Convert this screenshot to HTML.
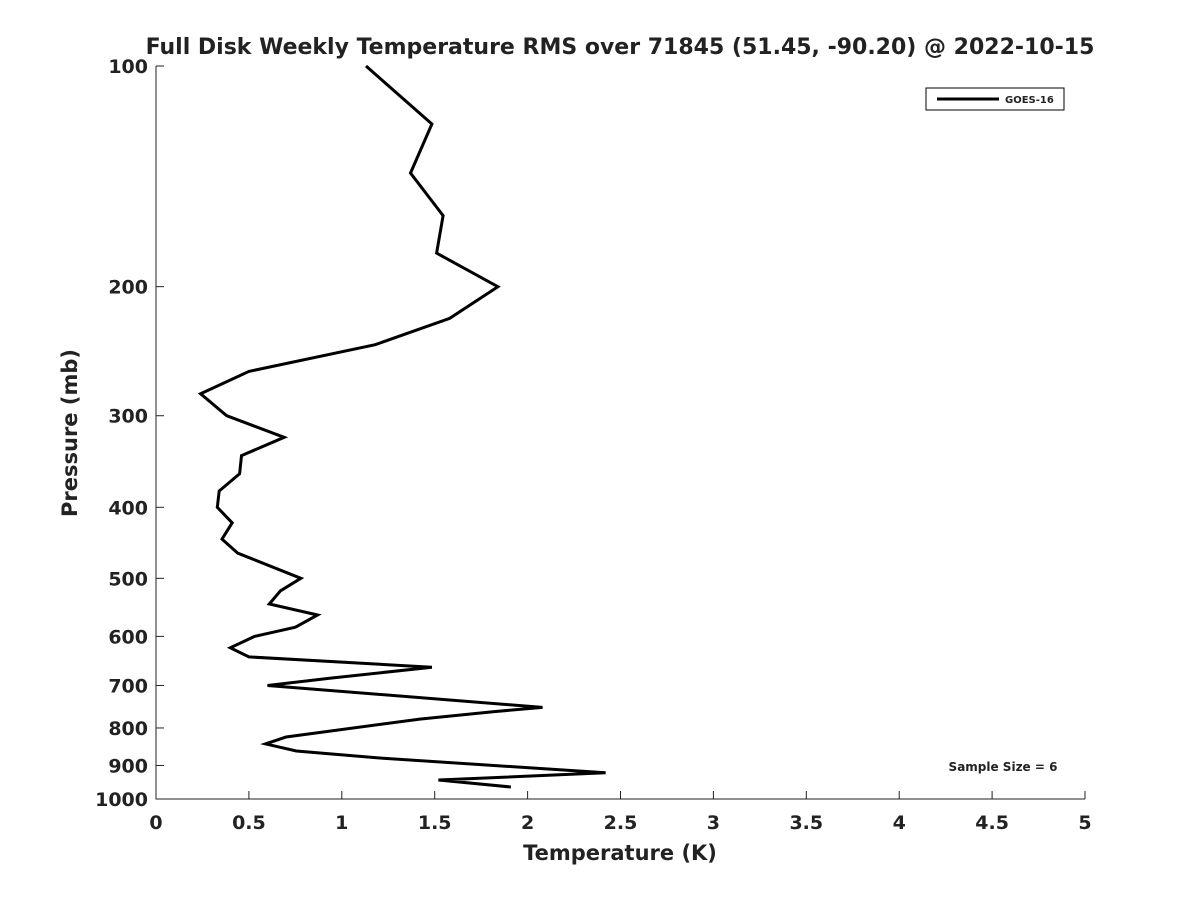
<!DOCTYPE html>
<html><head><meta charset="utf-8"><style>
body{margin:0;background:#fff}
svg text{font-family:"DejaVu Sans","Liberation Sans",sans-serif;font-weight:bold;fill:#222}
</style></head><body>
<svg width="1200" height="900">
<text x="620" y="54" font-size="22" text-anchor="middle" fill="#000">Full Disk Weekly Temperature RMS over 71845 (51.45, -90.20) @ 2022-10-15</text>
<g id="axes"></g>
<path id="line" fill="none" stroke="#000" stroke-width="3" stroke-linejoin="miter"/>
<rect x="926" y="88" width="138" height="22" fill="#fff" stroke="#000" stroke-width="1"/>
<line x1="937" y1="99" x2="999" y2="99" stroke="#000" stroke-width="3"/>
<text x="1005" y="103" font-size="10" fill="#000">GOES-16</text>
<text x="1003" y="771" font-size="12" text-anchor="middle" fill="#000">Sample Size = 6</text>
<text x="620" y="860" font-size="21" text-anchor="middle">Temperature (K)</text>
<text transform="translate(77,433) rotate(-90)" font-size="21" text-anchor="middle">Pressure (mb)</text>
</svg>
<script>
const temps=[1.13,1.485,1.37,1.545,1.51,1.84,1.58,1.18,0.50,0.24,0.38,0.69,0.46,0.45,0.34,0.33,0.41,0.355,0.44,0.78,0.67,0.61,0.87,0.75,0.53,0.40,0.50,1.485,0.94,0.60,2.08,1.82,1.42,0.70,0.59,0.755,1.195,2.42,1.52,1.91];
const pressures=[100,120,140,160,180,200,221,240,261,280,300,321,340,360,380,400,420,442,462,500,520,542,561,583,600,622,640,661,684,700,750,760,778,823,841,860,879,921,942,963];
const xTicks=[0,0.5,1,1.5,2,2.5,3,3.5,4,4.5,5];
const xTickLabels=["0","0.5","1","1.5","2","2.5","3","3.5","4","4.5","5"];
const yTicks=[100,200,300,400,500,600,700,800,900,1000];
const X0=156,X1=1085,Y0=66,Y1=799;
const xs=v=>X0+(v-0)/(5-0)*(X1-X0);
const ys=p=>Y0+Math.log10(p/100)*(Y1-Y0);
const NS="http://www.w3.org/2000/svg";
const g=document.getElementById('axes');
function mk(t,a){const e=document.createElementNS(NS,t);for(const k in a)e.setAttribute(k,a[k]);g.appendChild(e);return e;}
let ax=mk('path',{d:`M${X0} ${Y0}V${Y1}H${X1}`,fill:'none',stroke:'#222','stroke-width':1});


xTicks.forEach((v,i)=>{const x=xs(v);
 const l=mk('line',{x1:x,y1:Y1,x2:x,y2:Y1-8,stroke:'#222'});
 
 
 const t=mk('text',{x:x,y:Y1+30,'font-size':19,'text-anchor':'middle'});t.textContent=xTickLabels[i];
 
 });
yTicks.forEach(p=>{const y=ys(p);
 const l=mk('line',{x1:X0,y1:y,x2:X0+8,y2:y,stroke:'#222'});
 
 
 const t=mk('text',{x:X0-8,y:y+7,'font-size':19,'text-anchor':'end'});t.textContent=p;
 
 });
document.getElementById('line').setAttribute('d',temps.map((v,i)=>(i?'L':'M')+xs(v).toFixed(1)+' '+ys(pressures[i]).toFixed(1)).join(''));
</script>
</body></html>
